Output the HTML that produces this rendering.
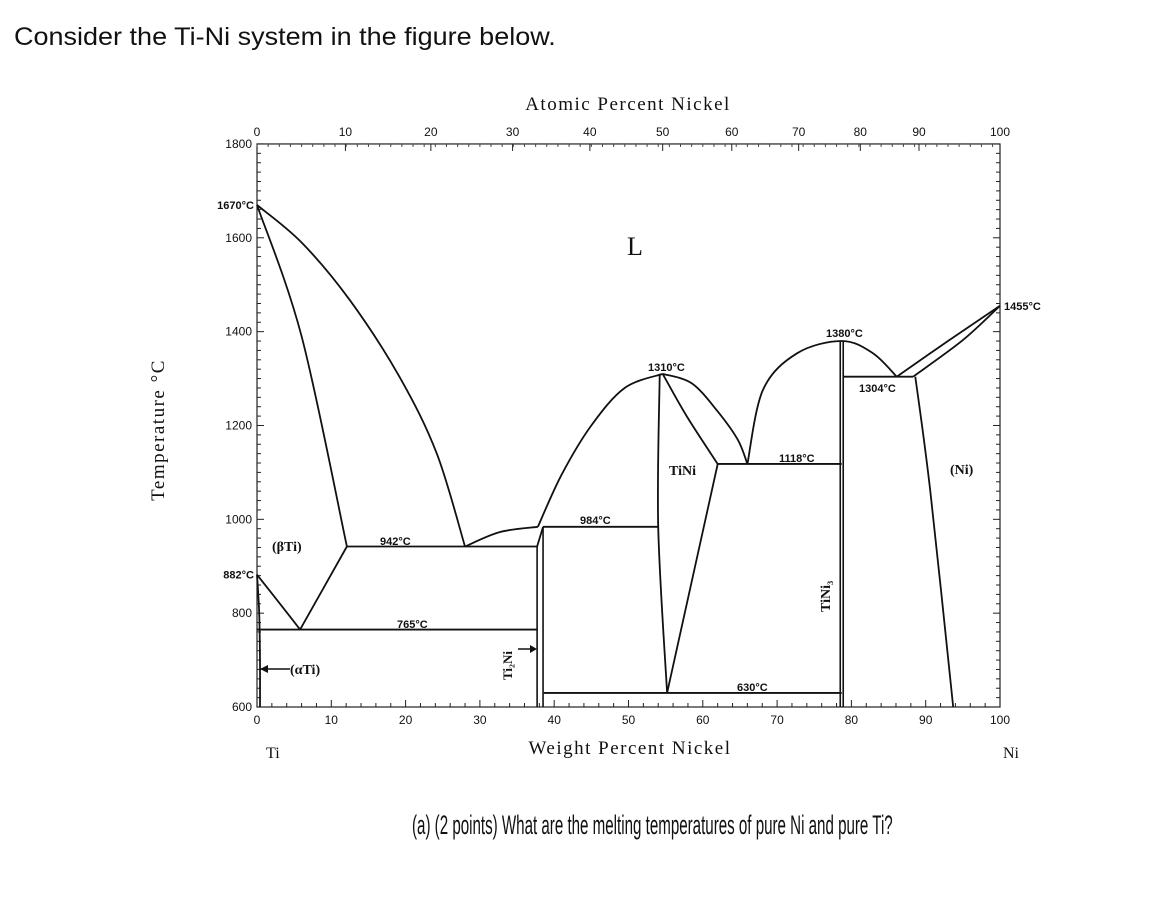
<!DOCTYPE html>
<html><head><meta charset="utf-8"><style>
body{margin:0;background:#fff;width:1174px;height:906px;overflow:hidden;font-family:"Liberation Sans",sans-serif}
.t{position:absolute;color:#111;white-space:nowrap;transform-origin:0 0}
</style></head><body>
<div class="t" style="left:14px;top:23px;font-size:25px;transform:scaleX(1.08)">Consider the Ti-Ni system in the figure below.</div>
<div class="t" style="left:412px;top:810px;font-size:27px;font-family:'Liberation Sans Narrow','Liberation Sans',sans-serif;transform:scaleX(0.56)">(a) (2 points) What are the melting temperatures of pure Ni and pure Ti?</div>
<svg id="chart" width="1174" height="906" style="position:absolute;left:0;top:0" font-family="Liberation Sans, sans-serif"></svg>
<script>
const wtTicks=[0,10,20,30,40,50,60,70,80,90,100];
const atTickLabels=[0,10,20,30,40,50,60,70,80,90,100];
const atTickWt=[0,11.9,23.4,34.4,44.8,54.6,63.9,72.9,81.2,89.1,100];
const tempTicks=[600,800,1000,1200,1400,1600,1800];
const specialTemps=[882,1670];
// phase boundaries as [wt%, T] points
const liqTi=[[0,1670],[6,1590],[12.5,1467],[19.2,1303],[24.2,1140],[28,942]];
const solTi=[[0,1670],[6,1390],[12.1,942]];
const liq2=[[28,942],[32.7,973],[37.8,984]];
const dome1L=[[37.8,984],[41,1095],[45,1200],[49.5,1280],[54.6,1310]];
const dome1R=[[54.6,1310],[58.5,1290],[62,1230],[64.7,1170],[66,1118]];
const tiniInner=[[54.6,1310],[57.9,1218],[62,1118]];
const tiniLeft=[[54.2,1310],[54,984],[55.2,630]];
const tiniRight=[[55.2,630],[62,1118]];
const dome2=[[66,1118],[68.1,1276],[72.7,1354],[78.7,1380],[82.9,1354],[86.1,1304]];
const niLiq=[[86.1,1304],[93,1380],[100,1455]];
const niSol=[[88.3,1304],[95,1382],[100,1455]];
const niSolvus=[[88.6,1304],[90.6,1062],[93.7,600]];
const bTiSolvus=[[0,882],[3.1,820],[5.8,765]];
const bTiSolvus2=[[5.8,765],[12.1,942]];
const ti2niSlant=[[37.7,942],[38.5,984]];
const aTi=[[0,882],[0.3,800],[0.4,700],[0.4,600]];
const isoLines=[[12.1,37.7,942],[38.5,54,984],[0,37.7,765],[38.6,78.7,630],[62,78.7,1118],[78.9,88.3,1304]];
const vLines=[[37.7,942,600],[38.5,984,600],[78.5,1380,600],[78.9,1380,600]];
const X=w=>257+w*7.43, Y=T=>707-(T-600)*0.4692;
const svg=document.getElementById('chart');
const NS='http://www.w3.org/2000/svg';
function mk(tag,a,name){const e=document.createElementNS(NS,tag);for(const k in a)e.setAttribute(k,a[k]);


svg.appendChild(e);return e;}
function txt(x,y,s,size,name,extra){const e=mk('text',Object.assign({x:x,y:y,'font-size':size,fill:'#111'},extra||{}),name);e.textContent=s;return e;}
mk('rect',{x:X(0),y:Y(1800),width:X(100)-X(0),height:Y(600)-Y(1800),fill:'none',stroke:'#222','stroke-width':1.2},'plot-frame');
for(let w=0;w<=100;w+=2){const big=w%10==0;
mk('line',{x1:X(w),x2:X(w),y1:Y(600),y2:Y(600)-(big?7:4),stroke:'#222'},'x-tick');}
atTickWt.forEach(w=>mk('line',{x1:X(w),x2:X(w),y1:Y(1800),y2:Y(1800)+7,stroke:'#222'},'x-tick-top'));
for(let w=0;w<=100;w+=1.5){mk('line',{x1:X(w),x2:X(w),y1:Y(1800),y2:Y(1800)+3,stroke:'#444'},'x-minor-tick-top');}
for(let T=600;T<=1800;T+=20){const big=T%200==0;
mk('line',{x1:X(0),x2:X(0)+(big?7:4),y1:Y(T),y2:Y(T),stroke:'#222'},'y-tick');
mk('line',{x1:X(100),x2:X(100)-(big?7:4),y1:Y(T),y2:Y(T),stroke:'#222'},'y-tick-right');}
wtTicks.forEach(w=>txt(X(w),Y(600)+17,String(w),12,'x-tick-label',{'text-anchor':'middle'}));
atTickLabels.forEach((a,i)=>txt(X(atTickWt[i]),Y(1800)-8,String(a),12,'top-tick-label',{'text-anchor':'middle'}));
tempTicks.forEach(T=>txt(X(0)-5,Y(T)+4,String(T),12,'y-tick-label',{'text-anchor':'end'}));
specialTemps.forEach(T=>txt(X(0)-3,Y(T)+4,T+'°C',11,'special-temp-label',{'text-anchor':'end','font-weight':'bold'}));
txt(X(100)+4,Y(1455)+4,'1455°C',11,'ni-melting-label',{'font-weight':'bold'});
function path(pts,name){const P=pts.map(p=>[X(p[0]),Y(p[1])]);let d='M'+P[0][0].toFixed(1)+','+P[0][1].toFixed(1);
for(let i=0;i<P.length-1;i++){const p0=P[Math.max(0,i-1)],p1=P[i],p2=P[i+1],p3=P[Math.min(P.length-1,i+2)];
const c1=[p1[0]+(p2[0]-p0[0])/6,p1[1]+(p2[1]-p0[1])/6],c2=[p2[0]-(p3[0]-p1[0])/6,p2[1]-(p3[1]-p1[1])/6];
d+=' C'+c1.map(v=>v.toFixed(1))+' '+c2.map(v=>v.toFixed(1))+' '+p2.map(v=>v.toFixed(1));}
mk('path',{d:d,fill:'none',stroke:'#111','stroke-width':1.8,'stroke-linejoin':'round'},name);}
path(liqTi,'liquidus-ti');path(solTi,'solidus-ti');path(liq2,'liquidus-ti2ni');path(dome1L,'liquidus-tini-left');
path(dome1R,'liquidus-tini-right');path(tiniInner,'tini-solidus-right');path(tiniLeft,'tini-left-boundary');
path(tiniRight,'tini-lower-right');path(dome2,'tini3-liquidus');path(ti2niSlant,'ti2ni-slant');
path(niLiq,'ni-liquidus');path(niSol,'ni-solidus');path(niSolvus,'ni-solvus');path(bTiSolvus,'beta-ti-solvus');path(bTiSolvus2,'beta-ti-solvus-right');path(aTi,'alpha-ti-solvus');
isoLines.forEach(l=>mk('line',{x1:X(l[0]),x2:X(l[1]),y1:Y(l[2]),y2:Y(l[2]),stroke:'#111','stroke-width':1.8},'isotherm'));
vLines.forEach(l=>mk('line',{x1:X(l[0]),x2:X(l[0]),y1:Y(l[1]),y2:Y(l[2]),stroke:'#111','stroke-width':1.6},'compound-line'));
const serif={'font-family':'Liberation Serif, serif'};
txt(627,255,'L',26,'liquid-label',serif);
txt(272,551,'(βTi)',14,'beta-ti-label',Object.assign({'font-weight':'bold'},serif));
txt(290,674,'(αTi)',14,'alpha-ti-label',Object.assign({'font-weight':'bold'},serif));
mk('line',{x1:260,x2:290,y1:669,y2:669,stroke:'#111','stroke-width':1.5},'alpha-arrow');
mk('path',{d:'M260,669 l8,-4 l0,8 z',fill:'#111'},'alpha-arrowhead');
txt(669,475,'TiNi',14,'tini-label',Object.assign({'font-weight':'bold'},serif));
txt(950,474,'(Ni)',14,'ni-label',Object.assign({'font-weight':'bold'},serif));
txt(380,545,'942°C',11,'t942-label',{'font-weight':'bold'});
txt(580,524,'984°C',11,'t984-label',{'font-weight':'bold'});
txt(397,628,'765°C',11,'t765-label',{'font-weight':'bold'});
txt(737,691,'630°C',11,'t630-label',{'font-weight':'bold'});
txt(779,462,'1118°C',11,'t1118-label',{'font-weight':'bold'});
txt(826,337,'1380°C',11,'t1380-label',{'font-weight':'bold'});
txt(859,392,'1304°C',11,'t1304-label',{'font-weight':'bold'});
txt(648,371,'1310°C',11,'t1310-label',{'font-weight':'bold'});
txt(512,680,'Ti₂Ni',13,'ti2ni-label',Object.assign({'font-weight':'bold',transform:'rotate(-90 512 680)'},serif));
mk('line',{x1:518,x2:533,y1:649,y2:649,stroke:'#111','stroke-width':1.5},'ti2ni-arrow');
mk('path',{d:'M537,649 l-7,-4 l0,8 z',fill:'#111'},'ti2ni-arrowhead');
txt(830,612,'TiNi₃',14,'tini3-label',Object.assign({'font-weight':'bold',transform:'rotate(-90 830 612)'},serif));
txt(628,110,'Atomic Percent Nickel',19,'top-axis-title',Object.assign({'text-anchor':'middle','letter-spacing':'1.5'},serif));
txt(630,754,'Weight Percent Nickel',19,'x-axis-title',Object.assign({'text-anchor':'middle','letter-spacing':'1.5'},serif));
txt(164,430,'Temperature °C',19,'y-axis-title',Object.assign({'text-anchor':'middle','letter-spacing':'1.5',transform:'rotate(-90 164 430)'},serif));
txt(266,758,'Ti',16,'ti-label',serif);
txt(1003,758,'Ni',16,'ni-end-label',serif);
</script>
</body></html>
